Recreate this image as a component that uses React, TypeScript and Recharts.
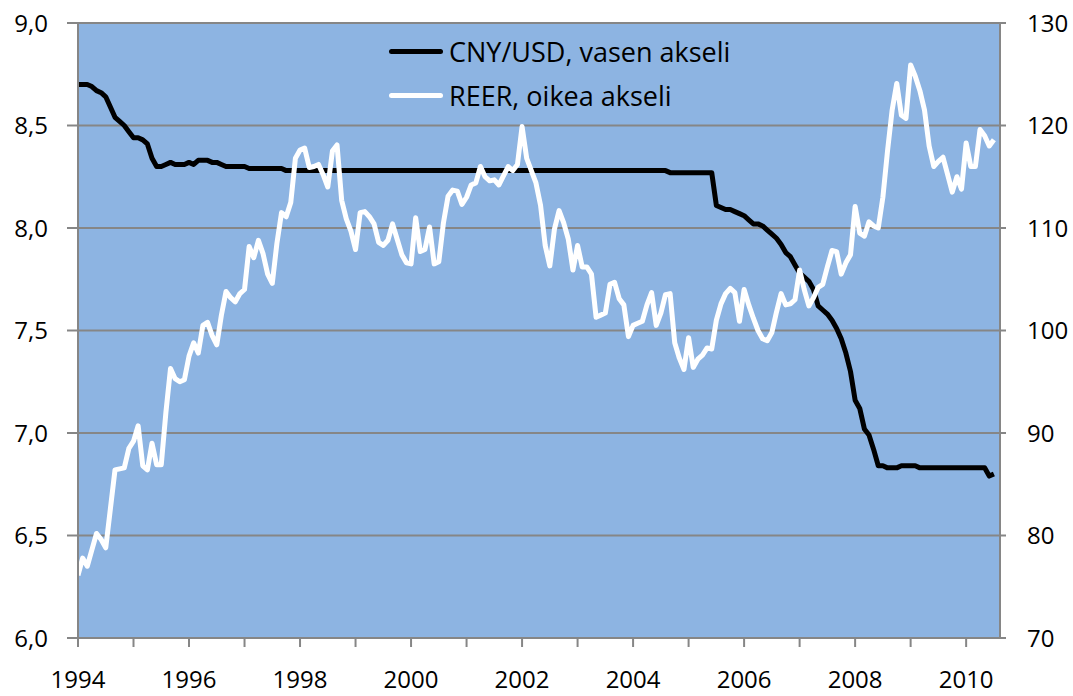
import { LineChart, Line, XAxis, YAxis, CartesianGrid, Legend } from 'recharts';

// monthly data, Jan 1994 .. Jul 2010
const startYear = 1994;

const cnyUsd = [
  8.70, 8.70, 8.70, 8.69, 8.67, 8.66, 8.64, 8.59, 8.54, 8.52, 8.50, 8.47, // 1994
  8.44, 8.44, 8.43, 8.41, 8.34, 8.30, 8.30, 8.31, 8.32, 8.31, 8.31, 8.31, // 1995
  8.32, 8.31, 8.33, 8.33, 8.33, 8.32, 8.32, 8.31, 8.30, 8.30, 8.30, 8.30, // 1996
  8.30, 8.29, 8.29, 8.29, 8.29, 8.29, 8.29, 8.29, 8.29, 8.28, 8.28, 8.28, // 1997
  8.28, 8.28, 8.28, 8.28, 8.28, 8.28, 8.28, 8.28, 8.28, 8.28, 8.28, 8.28, // 1998
  8.28, 8.28, 8.28, 8.28, 8.28, 8.28, 8.28, 8.28, 8.28, 8.28, 8.28, 8.28, // 1999
  8.28, 8.28, 8.28, 8.28, 8.28, 8.28, 8.28, 8.28, 8.28, 8.28, 8.28, 8.28, // 2000
  8.28, 8.28, 8.28, 8.28, 8.28, 8.28, 8.28, 8.28, 8.28, 8.28, 8.28, 8.28, // 2001
  8.28, 8.28, 8.28, 8.28, 8.28, 8.28, 8.28, 8.28, 8.28, 8.28, 8.28, 8.28, // 2002
  8.28, 8.28, 8.28, 8.28, 8.28, 8.28, 8.28, 8.28, 8.28, 8.28, 8.28, 8.28, // 2003
  8.28, 8.28, 8.28, 8.28, 8.28, 8.28, 8.28, 8.28, 8.27, 8.27, 8.27, 8.27, // 2004
  8.27, 8.27, 8.27, 8.27, 8.27, 8.27, 8.11, 8.10, 8.09, 8.09, 8.08, 8.07, // 2005
  8.06, 8.04, 8.02, 8.02, 8.01, 7.99, 7.97, 7.95, 7.92, 7.88, 7.86, 7.82, // 2006
  7.78, 7.76, 7.74, 7.70, 7.62, 7.60, 7.58, 7.55, 7.51, 7.46, 7.39, 7.30, // 2007
  7.16, 7.12, 7.02, 6.99, 6.92, 6.84, 6.84, 6.83, 6.83, 6.83, 6.84, 6.84, // 2008
  6.84, 6.84, 6.83, 6.83, 6.83, 6.83, 6.83, 6.83, 6.83, 6.83, 6.83, 6.83, // 2009
  6.83, 6.83, 6.83, 6.83, 6.83, 6.79, 6.80, // 2010
];

const reer = [
  76.1, 77.8, 77.0, 78.6, 80.2, 79.6, 78.8, 82.6, 86.4, 86.5, 86.6, 88.5, // 1994
  89.2, 90.7, 86.8, 86.4, 89.0, 86.9, 86.9, 92.0, 96.3, 95.3, 95.0, 95.2, // 1995
  97.5, 98.8, 97.8, 100.5, 100.8, 99.5, 98.6, 101.5, 103.8, 103.2, 102.8, 103.6, // 1996
  104.0, 108.2, 107.1, 108.8, 107.5, 105.5, 104.6, 108.5, 111.5, 111.1, 112.5, 116.8, // 1997
  117.6, 117.8, 115.9, 116.0, 116.2, 115.2, 114.0, 117.5, 118.1, 112.7, 110.9, 109.7, // 1998
  107.9, 111.5, 111.6, 111.1, 110.4, 108.6, 108.3, 108.8, 110.4, 108.9, 107.4, 106.6, // 1999
  106.5, 111.0, 107.7, 107.9, 110.1, 106.5, 106.7, 110.5, 113.1, 113.7, 113.6, 112.3, // 2000
  113.0, 114.2, 114.4, 116.0, 115.0, 114.6, 114.7, 114.2, 115.1, 116.0, 115.6, 116.2, // 2001
  119.9, 116.8, 115.6, 114.4, 112.2, 108.3, 106.3, 109.9, 111.7, 110.5, 108.9, 105.9, // 2002
  108.3, 106.2, 106.2, 105.5, 101.3, 101.5, 101.7, 104.5, 104.7, 103.1, 102.5, 99.4, // 2003
  100.5, 100.7, 100.9, 102.5, 103.7, 100.5, 101.7, 103.5, 103.6, 98.8, 97.3, 96.2, // 2004
  99.3, 96.4, 97.2, 97.6, 98.3, 98.2, 101.0, 102.6, 103.6, 104.1, 103.7, 100.9, // 2005
  104.0, 102.5, 101.2, 100.0, 99.2, 99.0, 99.8, 101.8, 103.6, 102.5, 102.6, 103.0, // 2006
  105.9, 104.0, 102.4, 103.2, 104.2, 104.5, 106.2, 107.8, 107.7, 105.5, 106.6, 107.4, // 2007
  112.1, 109.5, 109.2, 110.6, 110.2, 110.0, 113.0, 117.5, 121.5, 124.1, 121.0, 120.7, // 2008
  125.9, 124.8, 123.4, 121.5, 118.0, 116.0, 116.5, 116.9, 115.2, 113.5, 115.0, 113.8, // 2009
  118.3, 116.0, 116.0, 119.6, 119.0, 118.0, 118.6, // 2010
];

const yearTicks = [1994, 1995, 1996, 1997, 1998, 1999, 2000, 2001, 2002, 2003, 2004, 2005, 2006, 2007, 2008, 2009, 2010];
const leftTicks = [6, 6.5, 7, 7.5, 8, 8.5, 9];
const rightTicks = [70, 80, 90, 100, 110, 120, 130];

const legendItems = [
  { label: 'CNY/USD, vasen akseli', color: '#000000' },
  { label: 'REER, oikea akseli', color: '#ffffff' },
];

const data = cnyUsd.map((v, i) => ({
  t: startYear + i / 12,
  cny: v,
  reer: reer[i],
}));

const FONT = '"Open Sans", "Liberation Sans", sans-serif';
const GRID = '#868686';

function YearTick(props: any) {
  const { x, y, payload } = props;
  if (payload.value % 2 !== 0) return null;
  return (
    <text x={x} y={y} dy="0.71em" textAnchor="middle" fontFamily={FONT} fontSize={24} fill="#000">
      {payload.value}
    </text>
  );
}

function LegendBox() {
  return (
    <div style={{ fontFamily: FONT, fontSize: 27, color: '#000', lineHeight: 1 }}>
      {legendItems.map((it) => (
        <div key={it.label} style={{ display: 'flex', alignItems: 'center', height: 44 }}>
          <span
            style={{
              display: 'inline-block', width: 54, height: 5, borderRadius: 3,
              background: it.color, marginRight: 6,
            }}
          />
          <span style={{ whiteSpace: 'nowrap' }}>{it.label}</span>
        </div>
      ))}
    </div>
  );
}

export default function App() {
  return (
    <div style={{ position: 'absolute', left: 0, top: 0, background: '#fff' }}>
      <LineChart width={1073} height={696} data={data} margin={{ top: 23, right: 0, left: 0, bottom: 0 }}>
        <CartesianGrid yAxisId="left" vertical={false} fill="#8DB4E2" fillOpacity={1} stroke={GRID} strokeWidth={2} />
        <XAxis
          dataKey="t"
          type="number"
          domain={[1994, 2010.61]}
          ticks={yearTicks}
          height={58}
          tickSize={9}
          tickMargin={24}
          tick={<YearTick />}
          axisLine={{ stroke: GRID, strokeWidth: 2 }}
          tickLine={{ stroke: GRID, strokeWidth: 2 }}
          interval={0}
        />
        <YAxis
          yAxisId="left"
          domain={[6, 9]}
          ticks={leftTicks}
          width={78}
          tickSize={11}
          tickMargin={19}
          tickFormatter={(v: number) => v.toFixed(1).replace('.', ',')}
          tick={{ fontFamily: FONT, fontSize: 24, fill: '#000' }}
          axisLine={{ stroke: GRID, strokeWidth: 2 }}
          tickLine={{ stroke: GRID, strokeWidth: 2 }}
          interval={0}
        />
        <YAxis
          yAxisId="right"
          orientation="right"
          domain={[70, 130]}
          ticks={rightTicks}
          width={73}
          tickSize={6}
          tickMargin={21}
          tick={{ fontFamily: FONT, fontSize: 24, fill: '#000' }}
          axisLine={{ stroke: GRID, strokeWidth: 2 }}
          tickLine={{ stroke: GRID, strokeWidth: 2 }}
          interval={0}
        />
        <Legend
          layout="vertical"
          align="center"
          verticalAlign="middle"
          content={<LegendBox />}
          wrapperStyle={{ top: 29, left: 389, width: 'auto' }}
        />
        <Line
          yAxisId="left"
          type="linear"
          dataKey="cny"
          name="CNY/USD, vasen akseli"
          stroke="#000000"
          strokeWidth={5}
          strokeLinejoin="round"
          dot={false}
          isAnimationActive={false}
        />
        <Line
          yAxisId="right"
          type="linear"
          dataKey="reer"
          name="REER, oikea akseli"
          stroke="#ffffff"
          strokeWidth={5}
          strokeLinejoin="round"
          dot={false}
          isAnimationActive={false}
        />
      </LineChart>
    </div>
  );
}
